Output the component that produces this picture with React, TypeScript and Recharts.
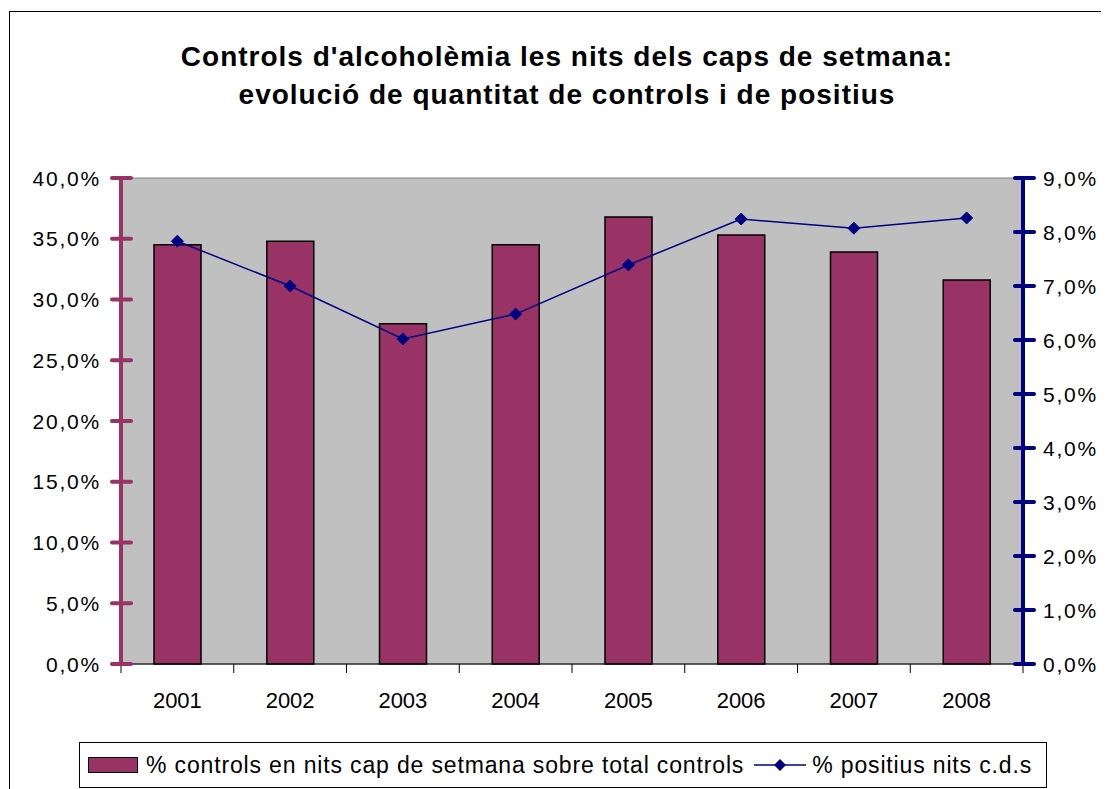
import React from 'react';
import {
  ComposedChart,
  Bar,
  Line,
  XAxis,
  YAxis,
  CartesianGrid,
  ReferenceArea,
} from 'recharts';

const years = ['2001', '2002', '2003', '2004', '2005', '2006', '2007', '2008'];
const controlsShare = [34.5, 34.8, 28.0, 34.5, 36.8, 35.3, 33.9, 31.6];
const positiveShare = [7.83, 7.0, 6.02, 6.48, 7.39, 8.24, 8.07, 8.26];
const leftTicks = [0, 5, 10, 15, 20, 25, 30, 35, 40];
const rightTicks = [0, 1, 2, 3, 4, 5, 6, 7, 8, 9];

const titleLines = [
  "Controls d'alcoholèmia les nits dels caps de setmana:",
  'evolució de quantitat de controls i de positius',
];
const barName = '% controls en nits cap de setmana sobre total controls';
const lineName = '% positius nits c.d.s';

const data = years.map((year, i) => ({
  year,
  controls: controlsShare[i],
  positius: positiveShare[i],
}));

const FONT = '"Liberation Sans", Arial, sans-serif';
const BAR_COLOR = '#993366';
const LINE_COLOR = '#000080';

const CHART_W = 1101;
const CHART_H = 781;
const MARGIN = { top: 170, right: 0, left: 0, bottom: 85 };
const LEFT_W = 113;
const RIGHT_W = 86;
const BAND = (CHART_W - LEFT_W - RIGHT_W) / years.length;

const pct = (v: number) => `${v.toFixed(1).replace('.', ',')}%`;

const LeftTick = ({ x, y, payload }: any) => (
  <g>
    <line x1={x - 9} x2={x + 10} y1={y} y2={y} stroke={BAR_COLOR} strokeWidth={4} strokeLinecap="round" />
    <text x={x - 20} y={y} dy="0.36em" textAnchor="end" fontSize={21} letterSpacing={1.8} fill="#000" fontFamily={FONT}>
      {pct(payload.value)}
    </text>
  </g>
);

const RightTick = ({ x, y, payload }: any) => (
  <g>
    <line x1={x - 8} x2={x + 11} y1={y} y2={y} stroke={LINE_COLOR} strokeWidth={4} strokeLinecap="round" />
    <text x={x + 20} y={y} dy="0.36em" textAnchor="start" fontSize={21} letterSpacing={1.8} fill="#000" fontFamily={FONT}>
      {pct(payload.value)}
    </text>
  </g>
);

const YearTick = ({ x, y, payload, index }: any) => (
  <g>
    <line x1={x - BAND / 2} x2={x - BAND / 2} y1={y} y2={y + 9} stroke="#000" strokeWidth={1} />
    {index === years.length - 1 && (
      <line x1={x + BAND / 2} x2={x + BAND / 2} y1={y} y2={y + 9} stroke="#000" strokeWidth={1} />
    )}
    <text x={x} y={y + 36} dy="0.36em" textAnchor="middle" fontSize={22} fill="#000" fontFamily={FONT}>
      {payload.value}
    </text>
  </g>
);

const Diamond = ({ cx, cy }: any) => {
  if (cx == null || cy == null) return null;
  const r = 6;
  return (
    <polygon
      points={`${cx},${cy - r} ${cx + r},${cy} ${cx},${cy + r} ${cx - r},${cy}`}
      fill={LINE_COLOR}
      stroke={LINE_COLOR}
    />
  );
};

export default function App() {
  return (
    <div
      style={{
        position: 'relative',
        width: CHART_W,
        height: CHART_H,
        overflow: 'hidden',
        background: '#fff',
        fontFamily: FONT,
      }}
    >
      <div
        style={{
          position: 'absolute',
          left: 1,
          top: 3,
          width: 1200,
          height: 900,
          border: '1px solid #000',
          boxSizing: 'border-box',
        }}
      />
      {titleLines.map((t, i) => (
        <div
          key={i}
          style={{
            position: 'absolute',
            left: 0,
            width: 1118,
            top: 33 + i * 38,
            textAlign: 'center',
            fontWeight: 'bold',
            fontSize: 28,
            letterSpacing: 1,
            lineHeight: '32px',
            color: '#000',
          }}
        >
          {t}
        </div>
      ))}
      <div style={{ position: 'absolute', left: 0, top: 0 }}>
        <ComposedChart width={CHART_W} height={CHART_H} data={data} margin={MARGIN}>
          <CartesianGrid yAxisId="left" fill="#c0c0c0" horizontal={false} vertical={false} />
          <ReferenceArea yAxisId="left" y1={0} y2={40} fill="none" stroke="#808080" strokeWidth={1} />
          <XAxis
            dataKey="year"
            height={40}
            axisLine={{ stroke: '#000', strokeWidth: 1 }}
            tickLine={false}
            tickSize={0}
            tickMargin={0}
            tick={<YearTick />}
            interval={0}
          />
          <YAxis
            yAxisId="left"
            orientation="left"
            width={LEFT_W}
            domain={[0, 40]}
            ticks={leftTicks}
            interval={0}
            axisLine={{ stroke: BAR_COLOR, strokeWidth: 4 }}
            tickLine={false}
            tickSize={0}
            tickMargin={0}
            tick={<LeftTick />}
          />
          <YAxis
            yAxisId="right"
            orientation="right"
            width={RIGHT_W}
            domain={[0, 9]}
            ticks={rightTicks}
            interval={0}
            axisLine={{ stroke: LINE_COLOR, strokeWidth: 4 }}
            tickLine={false}
            tickSize={0}
            tickMargin={0}
            tick={<RightTick />}
          />
          <Bar
            yAxisId="left"
            dataKey="controls"
            name={barName}
            fill={BAR_COLOR}
            stroke="#000"
            strokeWidth={1.5}
            barSize={47}
            isAnimationActive={false}
          />
          <Line
            yAxisId="right"
            dataKey="positius"
            name={lineName}
            type="linear"
            stroke={LINE_COLOR}
            strokeWidth={1.5}
            dot={<Diamond />}
            activeDot={false}
            isAnimationActive={false}
          />
        </ComposedChart>
      </div>
      <div
        style={{
          position: 'absolute',
          left: 71,
          top: 734,
          width: 968,
          height: 46,
          border: '1px solid #000',
          boxSizing: 'border-box',
          display: 'flex',
          alignItems: 'center',
          paddingLeft: 8,
          fontSize: 23,
          letterSpacing: 0.85,
          color: '#000',
          whiteSpace: 'nowrap',
        }}
      >
        <span
          style={{
            display: 'inline-block',
            width: 48,
            height: 14,
            background: BAR_COLOR,
            border: '1.5px solid #000',
            marginRight: 8,
          }}
        />
        <span>{barName}</span>
        <svg width={52} height={20} style={{ marginLeft: 10, marginRight: 6 }}>
          <line x1={0} x2={52} y1={10} y2={10} stroke={LINE_COLOR} strokeWidth={1.5} />
          <polygon points="26,4 32,10 26,16 20,10" fill={LINE_COLOR} />
        </svg>
        <span>{lineName}</span>
      </div>
    </div>
  );
}
